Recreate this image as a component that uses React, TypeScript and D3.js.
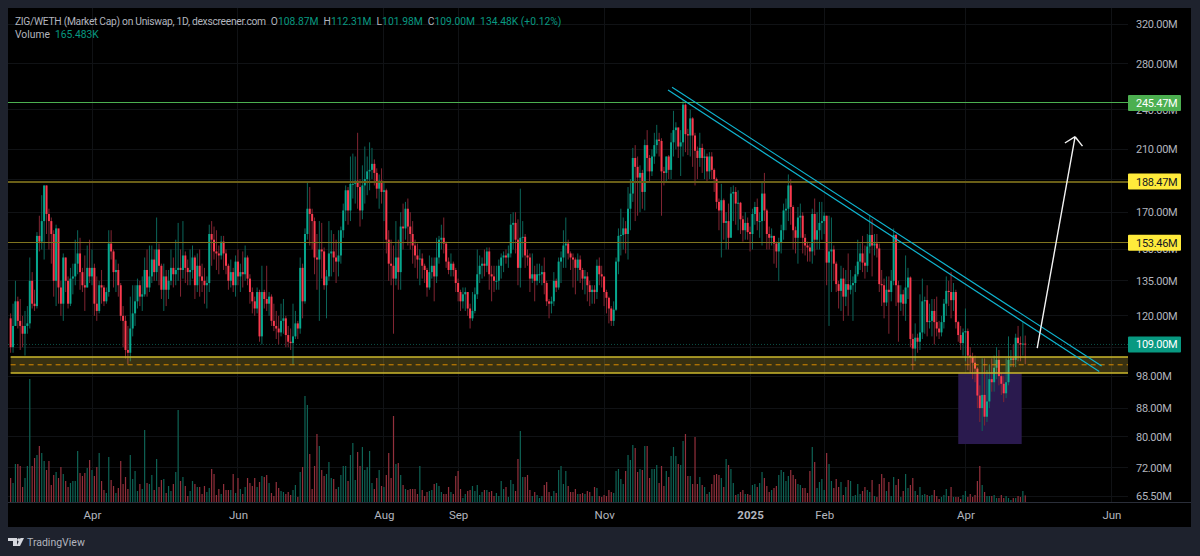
import React from 'react';
import { select, scaleTime, scaleLog, scaleLinear, axisRight, axisBottom, timeDay, line } from 'd3';

// daily market cap in millions, first candle is 27 Feb 2024
const firstDay = new Date(2024, 1, 27);
const firstOpen = 119;

const closes = [
  108, 116, 126, 118, 116, 113, 116, 117, 135, 125,
  124, 157, 154, 165, 186, 169, 165, 158, 135, 161,
  132, 125, 146, 135, 125, 136, 137, 143, 148, 139,
  133, 132, 141, 137, 141, 125, 122, 133, 132, 126,
  130, 153, 149, 139, 140, 133, 120, 118, 107, 106,
  115, 121, 126, 133, 128, 129, 140, 132, 137, 145,
  139, 150, 142, 131, 137, 131, 135, 141, 138, 140,
  141, 140, 147, 141, 139, 140, 146, 133, 142, 137,
  135, 133, 134, 158, 155, 149, 148, 147, 154, 148,
  142, 135, 139, 133, 144, 137, 139, 138, 146, 136,
  130, 126, 123, 130, 112, 130, 127, 125, 128, 118,
  116, 115, 113.5, 118, 119, 112.5, 110, 109.5, 112, 117,
  115, 141, 126, 158, 172, 169, 165, 146, 145, 150,
  149, 133, 137, 148, 149, 146, 144, 147, 160, 171,
  183, 171, 187, 187, 189, 185, 171, 186, 190, 195,
  196, 200, 194, 184, 189, 182, 183, 155, 143, 142,
  136, 146, 139, 162, 161, 172, 162, 158, 152, 147,
  145, 145.5, 142, 140, 132, 139, 142, 137, 146, 155,
  156, 153, 144, 140, 143, 140, 134, 130, 126, 129,
  130, 123, 119, 122, 129, 138, 142, 143, 142, 149,
  138, 137, 135, 135, 142, 146, 147, 146, 148, 163,
  164, 155, 141, 156, 156.5, 147, 146, 136, 138, 135,
  138, 138, 139, 134, 126, 125, 126, 135, 132, 144,
  146, 152, 153, 148, 146, 145, 141, 145, 140, 136,
  137, 133, 130, 131, 130, 142, 138, 137, 130, 127.5,
  123, 118, 122.5, 144, 157, 157.5, 161, 158, 172, 181,
  204, 198, 191, 194, 182, 213, 204, 195, 205, 213,
  217, 216, 195, 194, 205, 196, 215, 224, 226, 212,
  215, 244, 221, 220, 233, 220, 209, 204, 211, 204,
  205, 195, 205, 196, 190, 176, 171, 177, 164, 165,
  156, 181, 182, 175, 175.5, 166, 160, 164, 159, 158,
  169, 173, 165, 165, 181, 171, 158, 156, 157, 153,
  149, 153.5, 160, 171, 172, 186, 173, 160, 156, 167,
  168, 156, 152, 151, 149, 169, 155, 160, 164, 165,
  168, 143.5, 149, 150, 143, 133.5, 130.5, 136, 128, 133.5,
  131, 133, 134, 138, 144, 148, 143.5, 142, 151.5, 157.5,
  152, 153, 150.5, 133.5, 133, 125.5, 131, 130, 135, 157.5,
  133, 125.5, 129, 125, 132, 136.5, 111, 107.5, 111.5, 110,
  113.5, 126, 126.5, 117.5, 118, 122, 117.5, 115, 113.5, 117.5,
  125, 130.5, 130, 126.5, 130, 117.5, 112.5, 109.5, 113.5, 114,
  105, 104.5, 102.5, 100.5, 91.8, 88, 92, 85.5, 90, 97,
  96, 100.8, 103.5, 98, 95.5, 92.5, 96, 103.5, 104, 103.5,
  111.5, 109.5, 109, 109.3, 109,
];

const highs = [
  121, 125, 135, 128, 127, 120, 122, 124, 146, 139,
  131, 159, 168, 180, 186, 186, 172, 167, 160, 163,
  158, 135, 148, 146, 137, 141, 143, 155, 160, 156,
  141, 147, 152, 155, 150, 143, 137, 135, 140, 133,
  132, 160, 160, 150, 145, 143, 134, 124, 120, 116,
  128, 133, 133, 136, 135, 137, 146, 150, 152, 152,
  150, 167, 153, 143, 143, 140, 140, 150, 146, 155,
  164, 150, 165, 149, 145, 150, 152, 147, 148, 150,
  143, 141, 137, 163, 165, 162, 160, 152, 157, 157,
  150, 143, 145, 141, 147, 150, 143, 149, 152, 147,
  138, 132, 128, 132, 131, 142, 131, 142, 130, 129,
  125, 122, 120, 125, 127, 120, 116, 115, 125, 122,
  118, 146, 143, 161, 188, 185, 172, 167, 158, 165,
  164, 151, 140, 165, 160, 158, 155, 160, 162, 175,
  186, 185, 205, 207, 205, 222, 190, 199, 212, 205,
  215, 211, 203, 197, 193, 197, 188, 184, 160, 155,
  152, 165, 155, 170, 175, 176, 178, 170, 165, 155,
  153, 150, 148, 143, 141, 147, 146, 146, 156, 157,
  163, 167, 154, 146, 148, 144, 141, 136, 131, 132,
  132, 130, 125, 130, 132, 150, 147, 146, 150, 151,
  151, 142, 142, 142, 145, 148, 149, 150, 152, 169,
  170, 170, 166, 184, 165, 158, 150, 148, 148, 142,
  143, 143, 142, 146, 135, 127, 128, 139, 136, 146,
  149, 160, 167, 155, 149, 148, 146, 148, 147, 141,
  140, 139, 135, 133, 133, 145, 146, 142, 136, 131,
  128, 124, 126, 146, 161, 172, 167, 165, 185, 190,
  211, 213, 205, 199, 196, 217, 224, 206, 210, 222,
  228, 222, 218, 198, 205, 206, 222, 239, 230, 226,
  224, 248, 245, 225, 240, 234, 222, 212, 222, 214,
  210, 207, 208, 208, 197, 191, 178, 187, 178, 170,
  175, 185, 186, 185, 183, 176, 168, 170, 167, 162,
  172, 176, 178, 170, 188, 194, 172, 162, 161, 157,
  154, 156, 163, 175, 178, 193, 190, 174, 162, 173,
  175, 170, 158, 154, 153, 172, 178, 170, 176, 176,
  170, 168, 168, 167, 152, 144, 135, 142, 141, 140,
  148, 140, 137, 142, 155, 153, 157, 152, 158, 168,
  166, 158, 158, 153, 140, 136, 137, 137, 140, 161,
  158, 135, 133, 131, 147, 141, 137, 113, 117, 113,
  129, 136, 128, 133, 125, 127, 127, 128, 118, 120,
  127, 137, 135, 139, 134, 131, 118, 116, 115, 123,
  115, 108, 106, 105, 101, 95, 104, 104, 100, 102,
  104, 105, 108, 107, 99, 98, 104, 112, 107, 109,
  113, 116, 112, 117.5, 112.3,
];

const lows = [
  106, 106, 116, 115, 107, 108, 105, 113, 115, 123,
  122, 123, 149, 150, 145, 158, 150, 143, 128, 124,
  125, 120, 118, 130, 123, 124, 129, 133, 138, 131,
  130, 122, 132, 134, 133, 120, 118, 121, 125, 124,
  125, 128, 145, 132, 130, 128, 118, 108, 104, 102,
  103, 112, 116, 123, 124, 122, 128, 128, 130, 134,
  135, 135, 133, 127, 122, 124, 127, 133, 132, 133,
  135, 128, 136, 134, 133, 133, 136, 127, 130, 128,
  130, 125, 123, 130, 142, 145, 140, 138, 145, 140,
  138, 131, 132, 130, 128, 133, 130, 132, 135, 133,
  125, 121, 120, 121, 110, 109, 123, 122, 120, 116,
  114, 111, 109, 112, 113, 108, 108, 107, 102, 111,
  111, 113, 119, 125, 155, 152, 150, 138, 131, 118,
  136, 131, 119, 135, 137, 139, 134, 137, 143, 156,
  165, 163, 165, 178, 175, 172, 162, 166, 175, 180,
  183, 190, 186, 178, 172, 175, 165, 148, 135, 133,
  113, 133, 131, 131, 150, 155, 152, 150, 143, 141,
  136, 133, 136, 134, 128, 131, 136, 126, 134, 143,
  150, 148, 141, 138, 137, 137, 130, 126, 122, 123,
  122, 120, 115, 118, 121, 127, 134, 136, 137, 139,
  131, 126, 130, 131, 131, 136, 139, 143, 141, 146,
  150, 148, 133, 132, 146, 141, 142, 130, 134, 126,
  133, 134, 133, 129, 124, 119, 121, 124, 130, 131,
  134, 141, 141, 145, 140, 132, 129, 135, 134, 131,
  129, 126, 124, 125, 125, 127, 133, 132, 124, 121,
  117, 116, 116, 122, 138, 147, 150, 148, 145, 160,
  176, 165, 168, 170, 172, 171, 195, 188, 192, 200,
  207, 205, 168, 186, 188, 190, 190, 205, 210, 204,
  192, 205, 208, 206, 205, 198, 186, 190, 198, 194,
  190, 188, 190, 190, 182, 172, 160, 146, 155, 150,
  150, 158, 165, 163, 160, 158, 154, 155, 155, 149,
  150, 163, 160, 156, 152, 165, 150, 150, 152, 143,
  141, 135, 148, 155, 160, 165, 163, 150, 148, 143,
  156, 148, 147, 144, 144, 143, 147, 150, 150, 155,
  158, 133, 116, 130, 135, 130, 123, 122, 118, 124,
  120, 129, 118, 130, 137, 140, 139, 136, 139, 148,
  137, 147, 146, 130, 124, 119, 124, 113, 126, 133,
  124, 110, 122, 120, 118, 127, 108, 100, 103, 106,
  107, 111, 113, 112, 115, 112, 109, 112, 111, 112,
  115, 120, 124, 119, 122, 115, 110, 107, 105, 103,
  100, 99, 97, 96, 88, 84, 81.5, 83, 84, 88,
  93, 93, 97, 95, 92, 89.8, 91, 95, 101, 101,
  101, 103, 103, 105, 102,
];

// thousands
const volumes = [
  600, 475, 950, 950, 900, 375, 600, 900, 3075, 900,
  1100, 1175, 1400, 1225, 1025, 800, 1025, 425, 675, 750,
  600, 875, 700, 525, 375, 475, 525, 525, 1275, 725,
  650, 725, 850, 1050, 800, 650, 875, 1225, 525, 300,
  225, 1125, 550, 400, 225, 350, 1025, 450, 625, 325,
  1175, 575, 775, 275, 450, 325, 1800, 475, 450, 675,
  300, 1075, 375, 550, 575, 225, 400, 275, 450, 750,
  2300, 525, 625, 400, 150, 275, 525, 450, 375, 375,
  200, 400, 250, 350, 825, 700, 175, 325, 200, 450,
  300, 300, 300, 700, 225, 600, 325, 200, 375, 600,
  475, 400, 600, 375, 500, 650, 625, 675, 475, 225,
  150, 500, 350, 275, 250, 200, 250, 175, 300, 425,
  125, 750, 875, 2650, 2425, 1200, 325, 900, 1700, 1400,
  800, 650, 700, 1000, 600, 575, 325, 375, 675, 900,
  900, 525, 1175, 1475, 550, 1250, 900, 1375, 800, 875,
  1275, 475, 325, 600, 800, 400, 375, 675, 1225, 600,
  2150, 950, 975, 675, 425, 325, 300, 325, 325, 325,
  200, 900, 300, 150, 250, 275, 300, 450, 475, 400,
  250, 200, 200, 375, 250, 200, 650, 775, 325, 100,
  200, 275, 300, 400, 275, 425, 175, 250, 300, 300,
  250, 275, 150, 225, 150, 525, 325, 375, 125, 550,
  450, 275, 1075, 1775, 625, 625, 675, 300, 150, 250,
  175, 100, 150, 425, 500, 250, 150, 275, 225, 800,
  900, 450, 775, 400, 250, 250, 325, 200, 200, 225,
  200, 275, 250, 150, 375, 350, 150, 125, 175, 150,
  300, 250, 225, 775, 825, 575, 450, 775, 1175, 1050,
  1425, 1350, 750, 825, 800, 1400, 1400, 600, 825, 825,
  925, 475, 900, 400, 775, 625, 1150, 1375, 1150, 950,
  925, 1525, 1700, 650, 650, 450, 1625, 450, 625, 425,
  375, 200, 250, 450, 675, 700, 675, 600, 375, 1075,
  925, 825, 475, 175, 200, 250, 300, 200, 200, 175,
  425, 450, 375, 475, 750, 600, 400, 250, 300, 350,
  400, 675, 800, 750, 525, 650, 800, 675, 575, 450,
  425, 350, 350, 225, 775, 1375, 1000, 350, 500, 575,
  300, 1225, 950, 525, 350, 575, 375, 500, 175, 375,
  550, 525, 150, 175, 450, 200, 275, 375, 300, 250,
  550, 150, 125, 450, 700, 600, 275, 500, 150, 625,
  425, 575, 125, 275, 700, 350, 425, 600, 275, 175,
  375, 175, 200, 175, 150, 175, 300, 150, 75, 125,
  175, 325, 150, 375, 125, 125, 125, 75, 175, 275,
  125, 200, 125, 175, 525, 900, 425, 250, 150, 150,
  150, 175, 100, 100, 175, 100, 150, 100, 50, 100,
  100, 150, 125, 275, 165,
];

const priceTicks = [320, 280, 240, 210, 170, 150, 135, 120, 98, 88, 80, 72, 65.5];
const gridOnlyTicks = [190, 108];
const monthTicks = [
  new Date(2024, 3, 1), new Date(2024, 5, 1), new Date(2024, 7, 1), new Date(2024, 8, 1),
  new Date(2024, 10, 1), new Date(2025, 0, 1), new Date(2025, 1, 1), new Date(2025, 3, 1), new Date(2025, 5, 1),
];
const monthLabels = ['Apr', 'Jun', 'Aug', 'Sep', 'Nov', '2025', 'Feb', 'Apr', 'Jun'];

const levelPrices = [245.47, 188.47, 153.46];
const levelColors = ['#4caf50', '#6a5f17', '#80741f'];
const levelWidths = [1, 2, 1];
const tagFills = ['#4caf50', '#ffeb3b', '#ffeb3b'];
const tagTexts = ['#ffffff', '#131722', '#131722'];

const lastPrice = 109;
const bandTop = 104.5;
const bandMid = 101.8;
const bandBottom = 99.04;
const bandStart = new Date(2024, 1, 27);
const boxStart = new Date(2025, 2, 29);
const boxEnd = new Date(2025, 3, 24, 12);
const boxBottom = 78;

const upperTrend: [Date, number][] = [[new Date(2024, 10, 29, 10), 258.7], [new Date(2025, 4, 27, 22), 101.4]];
const lowerTrend: [Date, number][] = [[new Date(2024, 10, 27, 17), 256.3], [new Date(2025, 4, 26, 22), 99.5]];
const arrowFrom: [Date, number] = [new Date(2025, 4, 1), 107.7];
const arrowTo: [Date, number] = [new Date(2025, 4, 16, 20), 219.1];

const ohlcParts = [
  ['O', '108.87M'], ['H', '112.31M'], ['L', '101.98M'], ['C', '109.00M'],
];

const UP = '#07a78e';
const DOWN = '#fb3a4e';
const UP_DIM = '#0b665a';
const DOWN_DIM = '#812532';
const UP_VOL = '#0e6355';
const DOWN_VOL = '#93303c';
const TEXT = '#b2b5be';
const FONT = 'Roboto, "Open Sans", sans-serif';

const paneLeft = 8;
const paneTop = 8;
const axisLeft = 1128;
const paneRight = 1191;
const volBase = 502;
const paneBottom = 527;

export default function App() {
  const yAxisRef = React.useRef<SVGGElement>(null);
  const xAxisRef = React.useRef<SVGGElement>(null);

  const x = scaleTime()
    .domain([new Date(2024, 3, 1), new Date(2025, 5, 1)])
    .range([92, 1111.4]);
  const y = scaleLog().domain([65.5, 320]).range([496, 24]);
  const v = scaleLinear().domain([0, 3000]).range([volBase, volBase - 120]);

  const days = closes.map((_, i) => timeDay.offset(firstDay, i));
  const opens = closes.map((_, i) => (i === 0 ? firstOpen : closes[i - 1]));
  const trend = line<[Date, number]>()
    .x(d => x(d[0]))
    .y(d => y(d[1]));

  React.useEffect(() => {
    const yAxis = axisRight(y)
      .tickValues(priceTicks)
      .tickSize(0)
      .tickPadding(0)
      .tickFormat(d => (+d).toFixed(2) + 'M');
    const yg = select(yAxisRef.current);
    yg.call(yAxis as any);
    yg.select('.domain').remove();
    yg.attr('font-size', 11).attr('font-family', FONT).attr('letter-spacing', -0.3);

    const xAxis = axisBottom(x)
      .tickValues(monthTicks)
      .tickSize(0)
      .tickPadding(0)
      .tickFormat((_, i) => monthLabels[i]);
    const xg = select(xAxisRef.current);
    xg.call(xAxis as any);
    xg.select('.domain').remove();
    xg.attr('font-size', 11.5).attr('font-family', FONT);
    xg.selectAll('text').attr('font-weight', (_, i) => (i === 5 ? 700 : 400));
  }, []);

  // tail and barbs of the white arrow
  const ax0 = x(arrowFrom[0]);
  const ay0 = y(arrowFrom[1]);
  const ax1 = x(arrowTo[0]);
  const ay1 = y(arrowTo[1]);
  const back = Math.atan2(ay0 - ay1, ax0 - ax1);
  const barb = (a: number) => `M${ax1 + 12 * Math.cos(back + a)},${ay1 + 12 * Math.sin(back + a)}L${ax1},${ay1}`;

  return (
    <svg
      width={1200}
      height={556}
      style={{ position: 'fixed', left: 0, top: 0, display: 'block', fontFamily: FONT }}
    >
      <defs>
        <clipPath id='pane'>
          <rect x={paneLeft} y={paneTop} width={axisLeft - paneLeft} height={volBase - paneTop} />
        </clipPath>
      </defs>
      <rect width={1200} height={556} fill='#1e222d' />
      <rect x={paneLeft} y={paneTop} width={paneRight - paneLeft} height={paneBottom - paneTop} fill='#000' />

      <g stroke='#101215' strokeWidth={1} shapeRendering='crispEdges'>
        {[...priceTicks, ...gridOnlyTicks].map(p => (
          <line key={p} x1={paneLeft} x2={axisLeft} y1={y(p)} y2={y(p)} />
        ))}
        {monthTicks.map(d => (
          <line key={+d} x1={x(d)} x2={x(d)} y1={paneTop} y2={volBase} />
        ))}
      </g>
      <line x1={paneLeft} x2={paneRight} y1={volBase + 0.5} y2={volBase + 0.5} stroke='#2a2e39' />

      <g clipPath='url(#pane)'>
        <rect
          x={x(boxStart)}
          y={y(bandBottom)}
          width={x(boxEnd) - x(boxStart)}
          height={y(boxBottom) - y(bandBottom)}
          fill='#2a1a4e'
        />

        <g>
          {volumes.map((d, i) => (
            <rect
              key={i}
              x={x(days[i]) - 0.6}
              y={v(d)}
              width={1.2}
              height={volBase - v(d)}
              fill={closes[i] >= opens[i] ? UP_VOL : DOWN_VOL}
            />
          ))}
        </g>

        <line
          x1={paneLeft}
          x2={axisLeft}
          y1={y(lastPrice)}
          y2={y(lastPrice)}
          stroke='#0c4f45'
          strokeDasharray='1 2'
        />

        <g>
          {closes.map((c, i) => {
            const up = c >= opens[i];
            const top = y(Math.max(c, opens[i]));
            const bot = y(Math.min(c, opens[i]));
            return (
              <g key={i}>
                <line
                  x1={x(days[i])}
                  x2={x(days[i])}
                  y1={y(highs[i])}
                  y2={y(lows[i])}
                  stroke={up ? UP_DIM : DOWN_DIM}
                  strokeWidth={1}
                />
                <rect
                  x={x(days[i]) - 1}
                  y={top}
                  width={2}
                  height={Math.max(bot - top, 1)}
                  fill={up ? UP : DOWN}
                />
              </g>
            );
          })}
        </g>

        <rect
          x={x(bandStart)}
          y={y(bandTop)}
          width={axisLeft - x(bandStart)}
          height={y(bandBottom) - y(bandTop)}
          fill='#ffe14d'
          fillOpacity={0.22}
        />
        <g stroke='#cdb92c' strokeWidth={1.5}>
          <line x1={x(bandStart)} x2={axisLeft} y1={y(bandTop)} y2={y(bandTop)} />
          <line x1={x(bandStart)} x2={axisLeft} y1={y(bandBottom)} y2={y(bandBottom)} />
        </g>
        <line
          x1={x(bandStart)}
          x2={axisLeft}
          y1={y(bandMid)}
          y2={y(bandMid)}
          stroke='#d98a00'
          strokeWidth={1}
          strokeDasharray='5 4'
        />

        {levelPrices.map((p, i) => (
          <line
            key={p}
            x1={paneLeft}
            x2={axisLeft}
            y1={y(p)}
            y2={y(p)}
            stroke={levelColors[i]}
            strokeWidth={levelWidths[i]}
            shapeRendering='crispEdges'
          />
        ))}

        <path d={trend(upperTrend) as string} fill='none' stroke='#0fb3cf' strokeWidth={1.2} />
        <path d={trend(lowerTrend) as string} fill='none' stroke='#0fb3cf' strokeWidth={1.2} />

        <path
          d={`M${ax0},${ay0}L${ax1},${ay1}${barb(0.84)}${barb(-0.84)}`}
          fill='none'
          stroke='#f2f2f2'
          strokeWidth={1.4}
        />
      </g>

      <g ref={yAxisRef} transform='translate(1136,0)' style={{ color: TEXT }} />
      <g ref={xAxisRef} transform='translate(0,511)' style={{ color: TEXT }} />

      {levelPrices.map((p, i) => (
        <g key={p}>
          <rect x={axisLeft} y={y(p) - 8} width={53} height={16} rx={1} fill={tagFills[i]} />
          <text x={1136} y={y(p) + 4} fontSize={11} letterSpacing={-0.3} fill={tagTexts[i]}>
            {p.toFixed(2)}M
          </text>
        </g>
      ))}
      <rect x={axisLeft} y={y(lastPrice) - 8} width={53} height={16} rx={1} fill='#089981' />
      <text x={1136} y={y(lastPrice) + 4} fontSize={11} letterSpacing={-0.3} fill='#fff'>
        {lastPrice.toFixed(2)}M
      </text>

      <text x={15} y={24.5} fontSize={10.3} fill={TEXT}>
        <tspan letterSpacing={-0.3}>ZIG/WETH (Market Cap) on Uniswap, 1D, dexscreener.com</tspan>
        {ohlcParts.map(([k, val]) => (
          <React.Fragment key={k}>
            <tspan dx={5}>{k}</tspan>
            <tspan fill='#089981'>{val}</tspan>
          </React.Fragment>
        ))}
        <tspan dx={5} fill='#089981'>134.48K (+0.12%)</tspan>
      </text>
      <text x={15} y={37.7} fontSize={10.3} fill={TEXT}>
        Volume
        <tspan dx={5} fill='#089981'>165.483K</tspan>
      </text>

      <path d='M8,538H17V546H13V541H8ZM24,538L20,546H16.5L20.5,538Z' fill='#d6d8de' />
      <circle cx={18.8} cy={539.8} r={1.6} fill='#d6d8de' />
      <text x={27} y={546} fontSize={10.5} fill={TEXT}>TradingView</text>
    </svg>
  );
}
